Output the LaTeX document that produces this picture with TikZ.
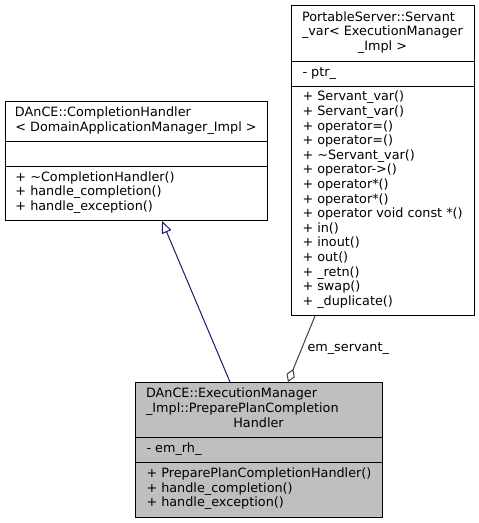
\documentclass[tikz,border=0pt]{standalone}
\usepackage{fontspec}
\setmainfont{DejaVu Sans}
\usetikzlibrary{calc}
\usetikzlibrary{arrows.meta}
\definecolor{navyline}{HTML}{191970}
\definecolor{aggline}{HTML}{404040}
\definecolor{classfill}{HTML}{BFBFBF}

\begin{document}
\begin{tikzpicture}[x=1pt,y=-1pt,line width=1pt,font=\fontsize{12.8}{14.6}\selectfont,
  classbox/.style={draw=black,anchor=north west,inner sep=0pt},
  classtitle/.style={inner sep=0pt},
  members/.style={anchor=west,align=left,inner sep=0pt,execute at begin node=\strut,execute at end node=\strut}]
\useasboundingbox (0,0) rectangle (479,523);
\node[classbox,minimum width=262,minimum height=119] (handler) at (5,101) {};
\draw (5,141) -- (267,141);
\draw (5,166) -- (267,166);
\node[classtitle] (handlername) at (136,121) {\begin{tabular}{@{}p{242pt}@{}}DAnCE::CompletionHandler\\\multicolumn{1}{@{}c@{}}{< DomainApplicationManager\_Impl >}\end{tabular}};
\node[members] (handlerops) at (15,193) {+ \textasciitilde CompletionHandler()\\+ handle\_completion()\\+ handle\_exception()};
\node[classbox,minimum width=183,minimum height=310] (servant) at (291,5) {};
\draw (291,61) -- (474,61);
\draw (291,86) -- (474,86);
\node[classtitle] (servantname) at (382.5,33) {\begin{tabular}{@{}p{161pt}@{}}PortableServer::Servant\\\_var< ExecutionManager\\\multicolumn{1}{@{}c@{}}{\_Impl >}\end{tabular}};
\node[members] (servantattr) at (302,73.5) {- ptr\_};
\node[members] (servantops) at (302,200.5) {+ Servant\_var()\\+ Servant\_var()\\+ operator=()\\+ operator=()\\+ \textasciitilde Servant\_var()\\+ operator->()\\+ operator*()\\+ operator*()\\+ operator void const *()\\+ in()\\+ inout()\\+ out()\\+ \_retn()\\+ swap()\\+ \_duplicate()};
\node[classbox,fill=classfill,minimum width=247,minimum height=135] (prepare) at (135,382) {};
\draw (135,437) -- (382,437);
\draw (135,462) -- (382,462);
\node[classtitle] (preparename) at (258.5,409.5) {\begin{tabular}{@{}p{225pt}@{}}DAnCE::ExecutionManager\\\_Impl::PreparePlanCompletion\\\multicolumn{1}{@{}c@{}}{Handler}\end{tabular}};
\node[members] (prepareattr) at (146,449.5) {- em\_rh\_};
\node[members] (prepareops) at (146,489.5) {+ PreparePlanCompletionHandler()\\+ handle\_completion()\\+ handle\_exception()};
\draw[navyline,-{Triangle[open,length=12pt,width=10pt]}] ($(prepare.north west)+(95,0)$) -- ($(handler.south west)+(157,0)$);
\draw[aggline,-{Diamond[open,length=14pt,width=9pt]}] ($(servant.south west)+(24,0)$) -- ($(prepare.north west)+(153,0)$);
\node[anchor=west,inner sep=0pt] (servantlabel) at (307,349) {em\_servant\_};
\end{tikzpicture}
\end{document}
